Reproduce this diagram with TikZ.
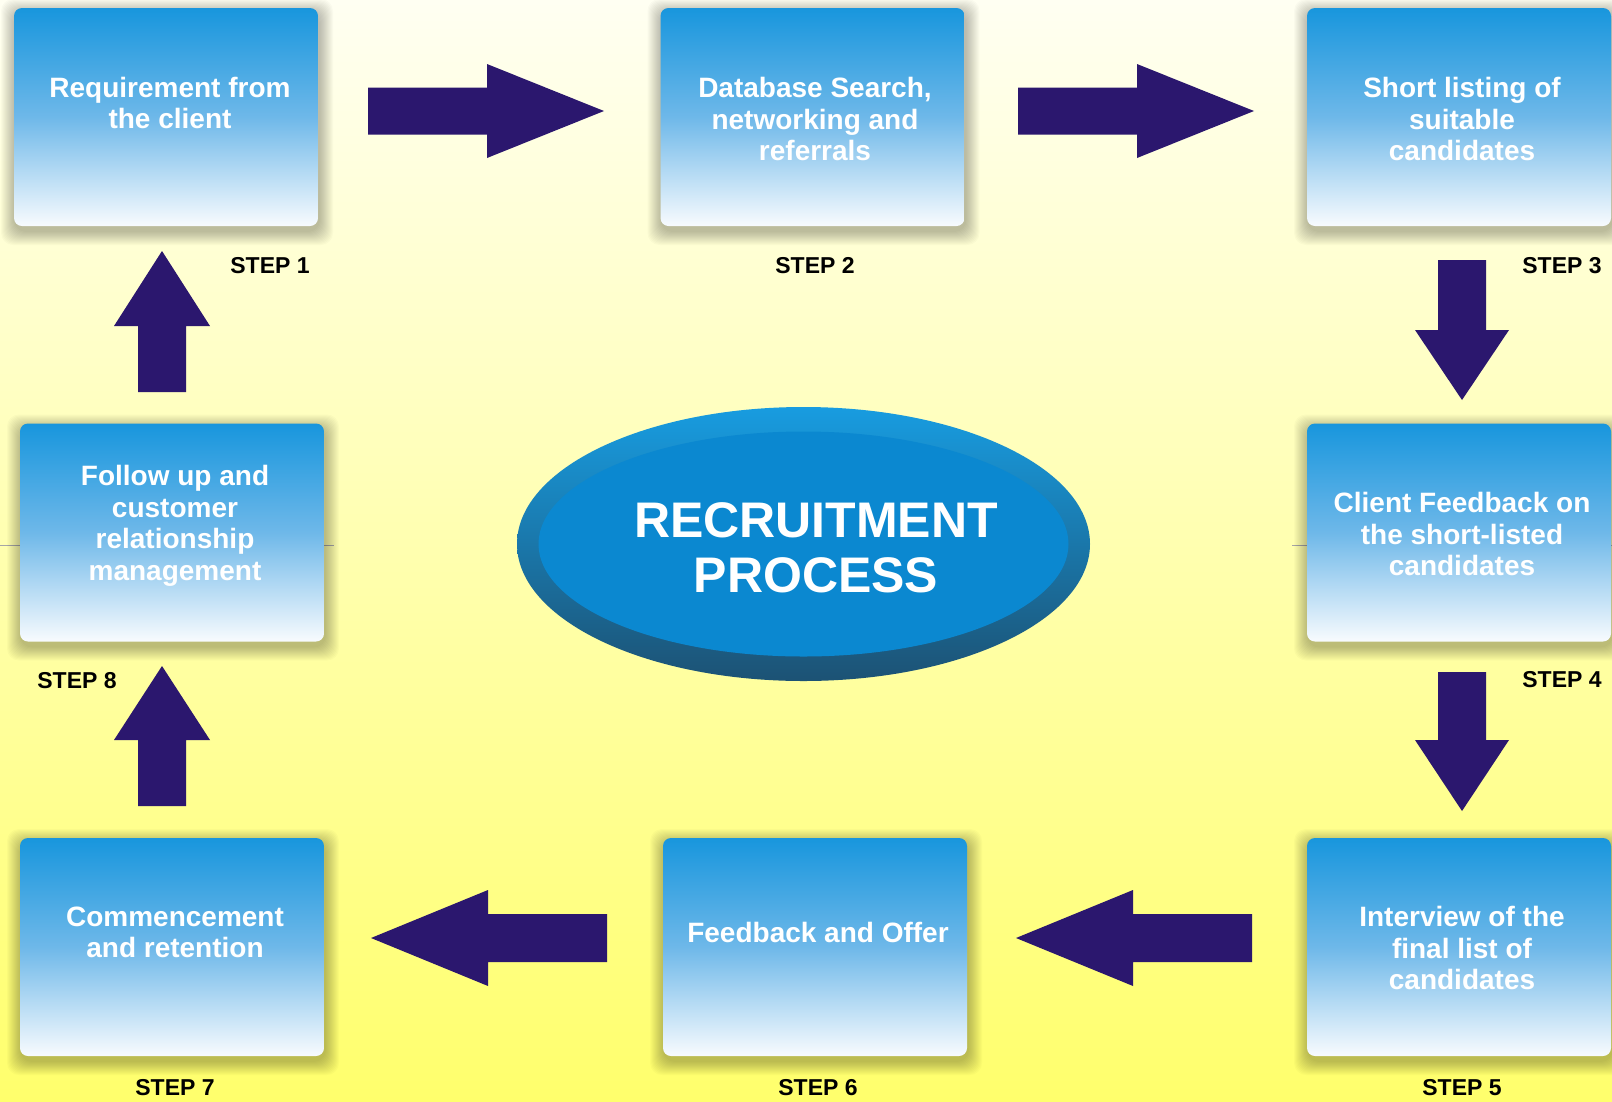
\documentclass[tikz,border=0pt]{standalone}
\usepackage{fontspec}
\setmainfont{Liberation Sans}
\usetikzlibrary{calc,shapes.geometric}
\definecolor{bgtop}{RGB}{255,255,242}
\definecolor{bgbot}{RGB}{255,255,108}
\definecolor{arrowc}{RGB}{43,23,110}
\definecolor{boxtop}{RGB}{24,150,221}
\definecolor{boxmid}{RGB}{110,184,233}
\definecolor{boxbot}{RGB}{248,251,254}
\definecolor{ringtop}{RGB}{24,156,224}
\definecolor{ringbot}{RGB}{28,82,116}
\definecolor{innerc}{RGB}{11,136,208}
\tikzset{
  boxst/.style={rectangle, rounded corners=8, minimum width=304, minimum height=218,
    inner sep=0, top color=boxtop, bottom color=boxbot, middle color=boxmid, draw=none},
  boxtext/.style={align=center, text=white, font=\fontsize{28}{31.5}\selectfont\bfseries, inner sep=0},
  steplbl/.style={text=black, font=\fontsize{23}{26}\selectfont\bfseries, inner sep=0},
  title/.style={align=center, text=white, font=\fontsize{50}{55}\selectfont\bfseries, inner sep=0},
  blockarrow/.style={fill=arrowc, draw=none},
  faint/.style={draw=black!35, line width=0.8}
}
\newcommand{\shadowfor}[2]{%
  \foreach \k in {1,...,14}{%
    \fill[black, opacity=0.018, rounded corners=12]
      ($(#1,#2)+(-152-\k+1,-109-\k+5)$) rectangle ($(#1,#2)+(152+\k+1,109+\k+5)$);}}
\begin{document}
\begin{tikzpicture}[x=1pt,y=-1pt]
\useasboundingbox (0,0) rectangle (1612,1101);
\shade[top color=bgtop, bottom color=bgbot] (0,0) rectangle (1612,1101);
% faint horizontal rule behind the middle row
\draw[faint] (0,545) -- (334,545);
\draw[faint] (1292,545) -- (1612,545);
% shadows
\shadowfor{166}{117}
\shadowfor{812.5}{117}
\shadowfor{1459}{117}
\shadowfor{172}{532.5}
\shadowfor{1459}{532.5}
\shadowfor{172}{947}
\shadowfor{815}{947}
\shadowfor{1459}{947}
% boxes
\node[boxst] (b1) at (166,117) {};
\node[boxst] (b2) at (812.5,117) {};
\node[boxst] (b3) at (1459,117) {};
\node[boxst] (b4) at (1459,532.5) {};
\node[boxst] (b5) at (1459,947) {};
\node[boxst] (b6) at (815,947) {};
\node[boxst] (b7) at (172,947) {};
\node[boxst] (b8) at (172,532.5) {};
% box texts
\node[boxtext] (t1) at (170,103) {Requirement from\\the client};
\node[boxtext] (t2) at (815,119) {Database Search,\\networking and\\referrals};
\node[boxtext] (t3) at (1462,119) {Short listing of\\suitable\\candidates};
\node[boxtext] (t4) at (1462,534) {Client Feedback on\\the short-listed\\candidates};
\node[boxtext] (t5) at (1462,948) {Interview of the\\final list of\\candidates};
\node[boxtext] (t6) at (818,932) {Feedback and Offer};
\node[boxtext] (t7) at (175,932.5) {Commencement\\and retention};
\node[boxtext] (t8) at (175,526) {Follow up and\\customer\\relationship\\management};
% step labels
\node[steplbl] (s1) at (270,266) {STEP 1};
\node[steplbl] (s2) at (815,266) {STEP 2};
\node[steplbl] (s3) at (1562,266) {STEP 3};
\node[steplbl] (s4) at (1562,680) {STEP 4};
\node[steplbl] (s5) at (1462,1088) {STEP 5};
\node[steplbl] (s6) at (818,1088) {STEP 6};
\node[steplbl] (s7) at (175,1088) {STEP 7};
\node[steplbl] (s8) at (77,681) {STEP 8};
% central ellipse
\node[ellipse, minimum width=573, minimum height=274, inner sep=0, draw=none,
      top color=ringtop, bottom color=ringbot] (outer) at (803.5,544) {};
\node[ellipse, minimum width=530, minimum height=225, inner sep=0, draw=none,
      fill=innerc] (inner) at (outer.center) {};
\node[title] (ttl) at (816,548) {RECRUITMENT\\PROCESS};
% block arrows
\fill[blockarrow] (368,87.5) -- (487,87.5) -- (487,64) -- (604,111) -- (487,158) -- (487,134.5) -- (368,134.5) -- cycle;
\fill[blockarrow] (1018,87.5) -- (1137,87.5) -- (1137,64) -- (1254,111) -- (1137,158) -- (1137,134.5) -- (1018,134.5) -- cycle;
\fill[blockarrow] (1438,260) -- (1486,260) -- (1486,330) -- (1509,330) -- (1462,400) -- (1415,330) -- (1438,330) -- cycle;
\fill[blockarrow] (1438,672) -- (1486,672) -- (1486,740) -- (1509,740) -- (1462,811) -- (1415,740) -- (1438,740) -- cycle;
\fill[blockarrow] (1252,914) -- (1133,914) -- (1133,890) -- (1016,938) -- (1133,986) -- (1133,962) -- (1252,962) -- cycle;
\fill[blockarrow] (607,914) -- (488,914) -- (488,890) -- (371,938) -- (488,986) -- (488,962) -- (607,962) -- cycle;
\fill[blockarrow] (138,806) -- (186,806) -- (186,740) -- (210,740) -- (162,666) -- (114,740) -- (138,740) -- cycle;
\fill[blockarrow] (138,392) -- (186,392) -- (186,326) -- (210,326) -- (162,251) -- (114,326) -- (138,326) -- cycle;
\end{tikzpicture}
\end{document}
